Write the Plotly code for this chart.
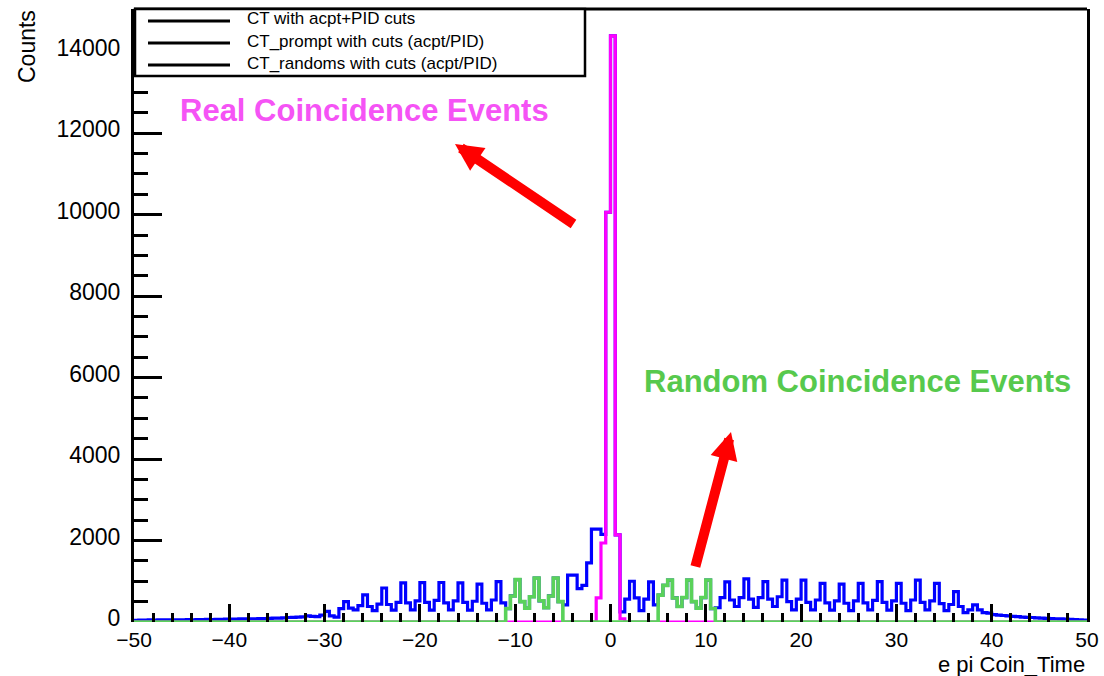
import plotly.graph_objects as go

# Coincidence-time histograms, 0.5 ns bins from -50 ns to +50 ns
bin_lo = -50.0
bin_width = 0.5

# CT with acpt+PID cuts: 4 bins per 2 ns row, row start noted on the right
ct_all = [
    40, 45, 45, 50,          # -50
    45, 50, 50, 55,          # -48
    50, 55, 55, 60,          # -46
    55, 60, 60, 65,          # -44
    60, 65, 65, 70,          # -42
    70, 70, 75, 75,          # -40
    80, 80, 85, 85,          # -38
    90, 95, 95, 100,         # -36
    110, 115, 120, 125,      # -34
    150, 140, 130, 170,      # -32
    260, 150, 120, 330,      # -30
    500, 340, 300, 400,      # -28
    665, 380, 280, 440,      # -26
    835, 430, 290, 480,      # -24
    960, 470, 300, 520,      # -22
    965, 480, 290, 530,      # -20
    970, 470, 300, 520,      # -18
    960, 480, 290, 510,      # -16
    930, 460, 300, 540,      # -14
    990, 470, 330, 640,      # -12
    1040, 500, 340, 620,     # -10
    1080, 520, 350, 640,     # -8
    1080, 500, 420, 1150,    # -6
    1150, 820, 900, 1450,    # -4
    2280, 2280, 2150, 10060, # -2
    14390, 2140, 250, 560,   # 0
    1000, 590, 280, 560,     # 2
    985, 420, 660, 900,      # 4
    1030, 590, 380, 600,     # 6
    1030, 500, 340, 600,     # 8
    1030, 330, 350, 600,     # 10
    985, 540, 380, 600,      # 12
    1060, 560, 360, 600,     # 14
    990, 560, 380, 620,      # 16
    1030, 500, 300, 560,     # 18
    1030, 480, 300, 540,     # 20
    950, 470, 290, 520,      # 22
    930, 460, 280, 520,      # 24
    950, 470, 300, 530,      # 26
    990, 480, 290, 520,      # 28
    950, 460, 280, 540,      # 30
    1030, 480, 300, 520,     # 32
    950, 450, 280, 430,      # 34
    745, 380, 230, 300,      # 36
    420, 300, 230, 220,      # 38
    180, 170, 160, 150,      # 40
    140, 130, 120, 115,      # 42
    110, 100, 95, 90,        # 44
    85, 80, 75, 70,          # 46
    65, 60, 55, 45,          # 48
]

# CT_prompt: non-empty bins start at -1.5 ns
prompt_start = -1.5
ct_prompt = [590, 1940, 10060, 14390, 2140, 80]

# CT_randoms: two side windows, [-11, -5] and [5, 11] ns
randoms_left_start = -11.0
ct_randoms_left = [330, 640, 1040, 500, 340, 620, 1080, 520, 350, 640, 1080, 500]
randoms_right_start = 5.0
ct_randoms_right = [660, 900, 1030, 590, 380, 600, 1030, 500, 340, 600, 1030, 330]

legend_labels = [
    "CT with acpt+PID cuts",
    "CT_prompt with cuts (acpt/PID)",
    "CT_randoms with cuts (acpt/PID)",
]

n_bins = len(ct_all)
edges = [bin_lo + i * bin_width for i in range(n_bins + 1)]


def fill_bins(start, values):
    counts = [0] * n_bins
    i0 = int(round((start - bin_lo) / bin_width))
    counts[i0:i0 + len(values)] = values
    return counts


prompt_full = fill_bins(prompt_start, ct_prompt)
randoms_full = fill_bins(randoms_left_start, ct_randoms_left)
right_part = fill_bins(randoms_right_start, ct_randoms_right)
randoms_full = [a + b for a, b in zip(randoms_full, right_part)]

BLUE = "#0000FF"
MAGENTA = "#FF00FF"
GREEN = "#5AD25A"
FONT = "Liberation Sans, Arial, sans-serif"

fig = go.Figure()


def add_hist(counts, color, width):
    fig.add_trace(go.Scatter(
        x=edges, y=list(counts) + [counts[-1]],
        mode="lines", line=dict(color=color, width=width, shape="hv"),
        showlegend=False, hoverinfo="skip",
    ))


add_hist(ct_all, BLUE, 3.2)
add_hist(prompt_full, MAGENTA, 3.2)
add_hist(randoms_full, GREEN, 3.6)

# plot frame: left 134, right 1087, top 9, bottom 622 (pixels)
L, R, T, B = 134, 1087, 9, 622


def px(xp):
    return (xp - L) / (R - L)


def py(yp):
    return (B - yp) / (B - T)


shapes = [
    dict(type="line", xref="paper", yref="paper", x0=0, x1=1, y0=1, y1=1,
         line=dict(color="black", width=3), layer="above"),
    # legend box
    dict(type="rect", xref="paper", yref="paper",
         x0=px(135), x1=px(585), y0=py(76), y1=1,
         fillcolor="white", line=dict(color="black", width=2.5), layer="above"),
]
annotations = []
row_y = [19, 41, 63]
for label, yy in zip(legend_labels, row_y):
    shapes.append(dict(type="line", xref="paper", yref="paper",
                       x0=px(148), x1=px(230), y0=py(yy + 2), y1=py(yy + 2),
                       line=dict(color="black", width=3), layer="above"))
    annotations.append(dict(xref="paper", yref="paper", x=px(245), y=py(yy),
                            xanchor="left", yanchor="middle", showarrow=False,
                            text=label, font=dict(family=FONT, size=17, color="black")))

# axis titles
annotations.append(dict(xref="paper", yref="paper", x=px(R), y=py(664),
                        xanchor="right", yanchor="middle", showarrow=False,
                        text="e pi Coin_Time", font=dict(family=FONT, size=22, color="black")))
annotations.append(dict(xref="paper", yref="paper", x=px(27), y=py(47),
                        xanchor="center", yanchor="middle", showarrow=False, textangle=-90,
                        text="Counts", font=dict(family=FONT, size=23, color="black")))

# labels and arrows
annotations.append(dict(xref="paper", yref="paper", x=px(364), y=py(111),
                        xanchor="center", yanchor="middle", showarrow=False,
                        text="<b>Real Coincidence Events</b>",
                        font=dict(family=FONT, size=31, color="#F553F5")))
annotations.append(dict(xref="paper", yref="paper", x=px(857), y=py(381),
                        xanchor="center", yanchor="middle", showarrow=False,
                        text="<b>Random Coincidence Events</b>",
                        font=dict(family=FONT, size=31, color="#57C94D")))
annotations.append(dict(xref="paper", yref="paper", x=px(455), y=py(144),
                        ax=120, ay=81, text="", showarrow=True,
                        arrowhead=2, arrowsize=0.55, arrowwidth=10, arrowcolor="#FF0000"))
annotations.append(dict(xref="paper", yref="paper", x=px(731), y=py(432),
                        ax=-36, ay=136, text="", showarrow=True,
                        arrowhead=2, arrowsize=0.55, arrowwidth=10, arrowcolor="#FF0000"))

fig.update_layout(
    width=1104, height=676,
    margin=dict(l=L, r=1104 - R, t=T, b=676 - B, pad=0),
    paper_bgcolor="white", plot_bgcolor="white",
    showlegend=False,
    shapes=shapes, annotations=annotations,
    font=dict(family=FONT, size=23, color="black"),
    xaxis=dict(
        range=[-50, 50], tick0=0, dtick=10, showgrid=False, zeroline=False,
        showline=False, ticks="inside", ticklen=18, tickwidth=3, tickcolor="black",
        minor=dict(dtick=2, ticks="inside", ticklen=9, tickwidth=3, tickcolor="black"),
        tickfont=dict(family=FONT, size=21, color="black"), automargin=False,
        ticklabelstandoff=3,
    ),
    yaxis=dict(
        range=[0, 15050], tick0=0, dtick=2000, showgrid=False, zeroline=False,
        showline=True, mirror=True, linewidth=3, linecolor="black",
        ticks="inside", ticklen=28, tickwidth=3, tickcolor="black", tickformat="d",
        minor=dict(dtick=500, ticks="inside", ticklen=14, tickwidth=3, tickcolor="black"),
        tickfont=dict(family=FONT, size=23, color="black"), automargin=False,
        ticklabelstandoff=6, ticklabelshift=-4,
    ),
)

fig.write_html("out.html")
